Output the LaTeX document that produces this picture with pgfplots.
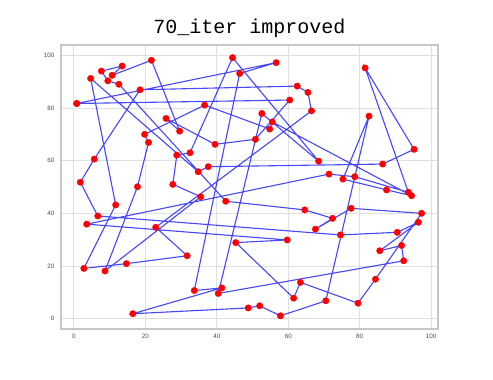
\documentclass[border=0pt]{standalone}
\usepackage{fontspec}
\setmainfont{Liberation Sans}
\setmonofont{Liberation Mono}
\usepackage{pgfplots}
\pgfplotsset{compat=1.18}
\usepackage{pgfplotstable}
\pgfplotstableread{
x y
0.8 81.7
56.6 97.2
46.4 93.1
33.7 10.7
41.4 11.7
16.5 1.9
48.8 4.1
52.0 4.9
57.8 1.1
70.5 6.8
82.6 76.9
75.3 53.0
87.5 48.9
94.5 46.7
55.5 74.7
54.8 72.0
36.6 81.1
19.8 70.0
20.9 66.9
17.8 50.1
8.7 18.1
35.5 46.3
27.7 51.0
28.8 62.1
32.5 63.0
44.4 99.1
68.5 59.8
52.6 77.9
40.4 9.6
92.3 22.0
91.7 27.8
85.6 25.8
96.4 36.6
90.5 32.8
74.6 31.8
6.7 39.0
1.8 51.8
5.7 60.6
18.5 86.9
62.5 88.3
65.5 85.9
66.5 78.9
22.9 34.7
31.7 23.9
14.7 20.9
2.8 19.1
11.7 43.2
4.7 91.2
34.8 55.8
37.6 57.7
86.4 58.7
95.2 64.3
81.5 95.2
93.6 48.0
78.6 53.9
71.4 54.9
3.6 35.9
59.7 29.9
45.3 28.9
61.5 7.8
63.4 13.8
79.5 5.9
84.4 15.0
97.3 40.0
77.6 41.9
67.6 34.0
72.4 38.1
64.6 41.3
42.5 44.6
12.6 89.0
9.5 90.3
7.7 94.0
13.5 95.9
10.7 92.4
21.7 98.1
29.6 71.2
25.8 76.0
39.5 66.2
50.8 68.1
60.4 83.0
0.8 81.7
}\tour
\begin{document}
\begin{tikzpicture}[x=1pt,y=1pt]
\useasboundingbox (0,0) rectangle (493,380);
\begin{axis}[at={(61pt,51pt)}, anchor=south west,
  width=377pt, height=284pt, scale only axis,
  xmin=-3.6, xmax=101.9, ymin=-3.9, ymax=103.9,
  xtick={0,20,...,100}, ytick={0,20,...,100},
  grid=major, grid style={draw=black!12, line width=0.9pt},
  axis line style={draw=black!22, line width=1.3pt},
  tick style={draw=none},
  ticklabel style={font=\fontsize{6.3}{7}\selectfont, text=black!70},
  /pgf/number format/assume math mode=true,
  xticklabel style={yshift=-2pt},
  yticklabel style={xshift=-3pt},
  clip=false]
\addplot[only marks, mark=*, mark size=3.2pt, color=red] table {\tour};
\addplot[color=blue, opacity=0.72, line width=1.1pt] table {\tour};
\end{axis}
\node[anchor=base, font=\fontsize{20}{22}\selectfont\ttfamily] at (249.5,346.7) {70\_iter improved};
\end{tikzpicture}
\end{document}
